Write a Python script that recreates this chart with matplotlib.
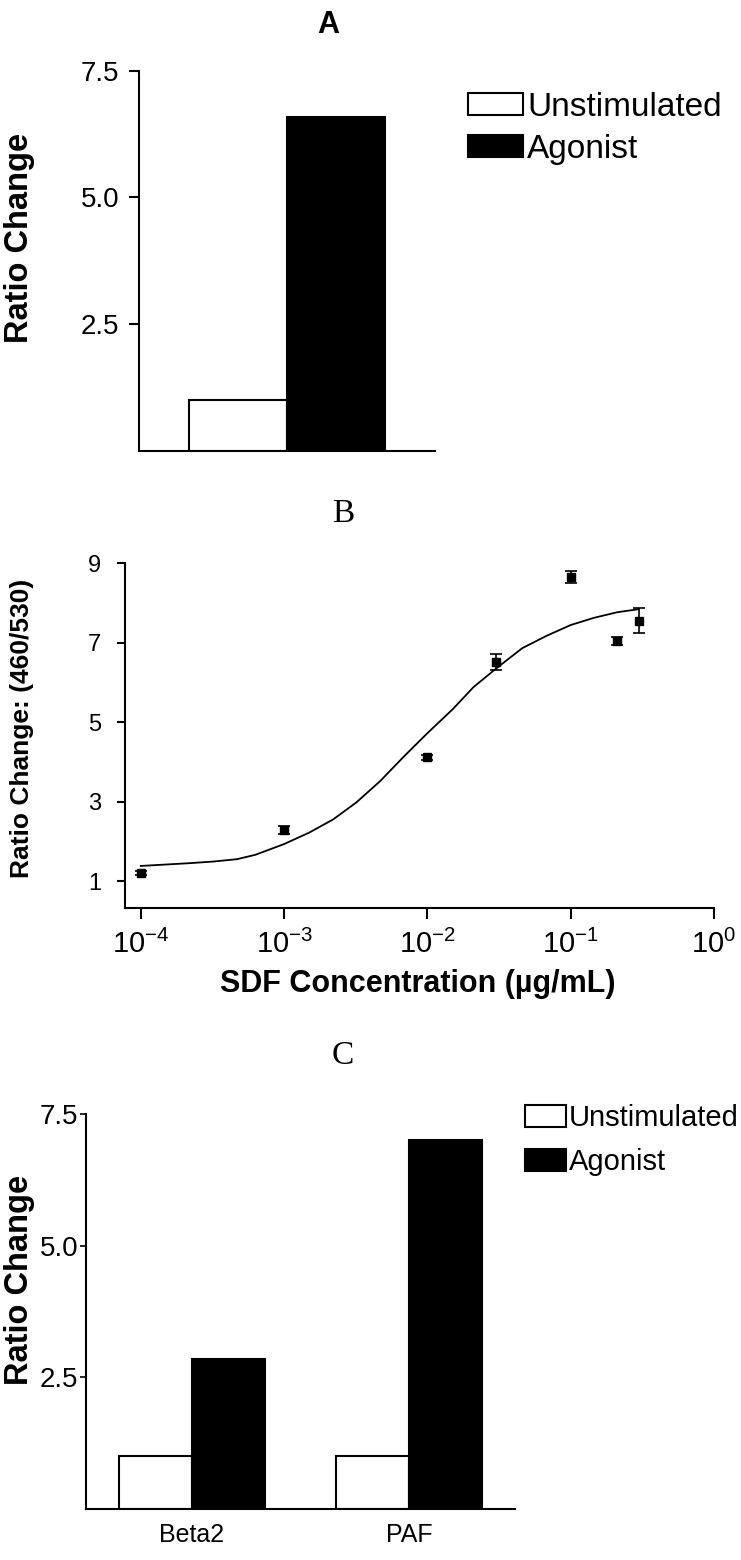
import matplotlib
matplotlib.use('Agg')
import matplotlib.pyplot as plt
from matplotlib.patches import Patch
from matplotlib.ticker import NullLocator

plt.rcParams['font.family'] = ['Liberation Sans', 'DejaVu Sans']
plt.rcParams['mathtext.fontset'] = 'stix'

# panel A
a_unstim = [1.0]
a_agonist = [6.6]
a_yticks = [2.5, 5.0, 7.5]
a_yticklabels = ['2.5', '5.0', '7.5']

# panel B - SDF dose response
b_conc = [1e-4, 1e-3, 1e-2, 0.03, 0.1, 0.21, 0.30]
b_ratio = [1.20, 2.29, 4.11, 6.52, 8.64, 7.04, 7.55]
b_err = [0.06, 0.10, 0.06, 0.20, 0.15, 0.10, 0.32]
# fitted curve
fit_conc = [1e-4, 2.2e-4, 3.2e-4, 4.7e-4, 6.3e-4, 1e-3, 1.5e-3, 2.2e-3, 3.2e-3, 4.7e-3,
            6.8e-3, 1e-2, 1.5e-2, 2.1e-2, 3.1e-2, 4.6e-2, 6.8e-2, 0.1, 0.145, 0.21, 0.30]
fit_ratio = [1.38, 1.45, 1.49, 1.55, 1.66, 1.93, 2.22, 2.55, 2.98, 3.52,
             4.12, 4.72, 5.32, 5.88, 6.38, 6.86, 7.17, 7.44, 7.62, 7.76, 7.84]
b_xticks = [1e-4, 1e-3, 1e-2, 1e-1, 1e0]
b_xticklabels = [r'$\mathregular{10^{-4}}$', r'$\mathregular{10^{-3}}$',
                 r'$\mathregular{10^{-2}}$', r'$\mathregular{10^{-1}}$',
                 r'$\mathregular{10^{0}}$']
b_yticks = [1, 3, 5, 7, 9]

# panel C
c_groups = ['Beta2', 'PAF']
c_unstim = [1.0, 1.0]
c_agonist = [2.85, 7.0]

legend_labels = ['Unstimulated', 'Agonist']

fig = plt.figure(figsize=(7.41, 15.6), dpi=100)


def fx(px):
    return px / 741


def fy(py):
    return 1 - py / 1560


def legend_handles():
    return [Patch(facecolor='white', edgecolor='black', linewidth=1.5),
            Patch(facecolor='black', edgecolor='black', linewidth=1.5)]


def style_axes(ax):
    ax.spines['top'].set_visible(False)
    ax.spines['right'].set_visible(False)
    ax.spines['left'].set_linewidth(1.5)
    ax.spines['bottom'].set_linewidth(1.5)


# ---- A ----
axA = fig.add_axes([0.1876, 0.7112, 0.3995, 0.2433])
w = 0.35
axA.bar([-w / 2], a_unstim, w, color='white', edgecolor='black', linewidth=1.5)
axA.bar([w / 2], a_agonist, w, color='black', edgecolor='black', linewidth=1.5)
axA.set_xlim(-0.53, 0.53)
axA.set_ylim(0, 7.5)
axA.set_yticks(a_yticks)
axA.set_yticklabels(a_yticklabels, fontsize=20)
axA.set_xticks([])
axA.tick_params(axis='y', direction='out', length=7, width=1.5, pad=7)
style_axes(axA)
fig.text(fx(20), fy(238), 'Ratio Change', fontsize=23.5, fontweight='bold',
         rotation=90, ha='center', va='center')
fig.text(fx(328), fy(25), 'A', fontsize=22, fontweight='bold',
         family=['Liberation Sans Narrow', 'Liberation Sans'], ha='center', va='center')
axA.legend(legend_handles(), legend_labels, loc='upper left', frameon=False,
           bbox_to_anchor=(fx(468), fy(92)), bbox_transform=fig.transFigure,
           fontsize=24, handlelength=1.65, handleheight=0.65, handletextpad=0.12,
           labelspacing=0.32, borderpad=0, borderaxespad=0)

# ---- B ----
axB = fig.add_axes([0.1687, 0.4179, 0.7949, 0.2212])
axB.set_xscale('log')
axB.plot(fit_conc, fit_ratio, color='black', linewidth=1.3)
axB.errorbar(b_conc, b_ratio, yerr=b_err, fmt='s', color='black', markersize=6,
             capsize=4, elinewidth=1.2, capthick=1.2)
axB.set_xlim(10 ** -4.11, 1)
axB.set_ylim(0.32, 9)
axB.set_xticks(b_xticks)
axB.set_xticklabels(b_xticklabels, fontsize=21)
axB.xaxis.set_minor_locator(NullLocator())
axB.set_yticks(b_yticks)
axB.set_yticklabels([str(v) for v in b_yticks], fontsize=17)
axB.tick_params(axis='y', direction='out', length=6, width=1.5, pad=11)
axB.tick_params(axis='x', direction='out', length=8, width=1.5, pad=8)
style_axes(axB)
fig.text(fx(418), fy(984), 'SDF Concentration (µg/mL)', fontsize=22,
         fontweight='bold', ha='center', va='center')
fig.text(fx(22), fy(728), 'Ratio Change: (460/530)', fontsize=19, fontweight='bold',
         rotation=90, ha='center', va='center')
fig.text(fx(343), fy(514), 'B', fontsize=24, family='Liberation Serif',
         ha='center', va='center')

# ---- C ----
axC = fig.add_axes([0.1154, 0.0327, 0.5802, 0.2532])
x = range(len(c_groups))
wc = 0.335
axC.bar([i - wc / 2 for i in x], c_unstim, wc, color='white', edgecolor='black', linewidth=1.5)
axC.bar([i + wc / 2 for i in x], c_agonist, wc, color='black', edgecolor='black', linewidth=1.5)
axC.set_xlim(-0.49, 1.49)
axC.set_ylim(0, 7.5)
axC.set_yticks(a_yticks)
axC.set_yticklabels(a_yticklabels, fontsize=20)
axC.set_xticks(list(x))
axC.set_xticklabels(c_groups, fontsize=18)
axC.tick_params(axis='y', direction='out', length=4, width=1.2, pad=1)
axC.tick_params(axis='x', length=0, pad=10)
style_axes(axC)
fig.text(fx(20), fy(1280), 'Ratio Change', fontsize=23.5, fontweight='bold',
         rotation=90, ha='center', va='center')
fig.text(fx(343), fy(1056), 'C', fontsize=24, family='Liberation Serif',
         ha='center', va='center')
axC.legend(legend_handles(), legend_labels, loc='upper left', frameon=False,
           bbox_to_anchor=(fx(525), fy(1104)), bbox_transform=fig.transFigure,
           fontsize=21, handlelength=1.4, handleheight=0.75, handletextpad=0.1,
           labelspacing=0.55, borderpad=0, borderaxespad=0)

fig.savefig('out.png', dpi=100)
